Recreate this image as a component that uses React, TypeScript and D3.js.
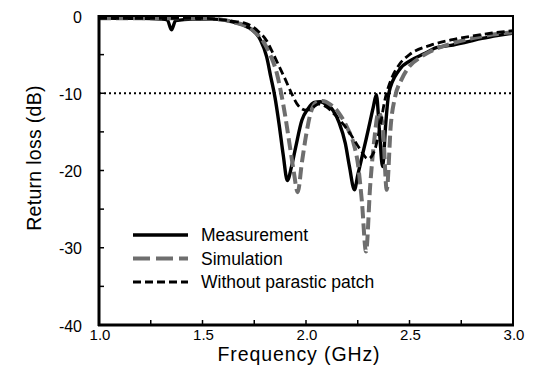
import React from "react";
import * as d3 from "d3";

const measFreq = [1.0,1.1,1.2,1.3,1.33,1.35,1.37,1.45,1.55,1.6,1.65,1.7,1.73,1.76,1.78,1.81,1.83,1.85,1.87,1.89,1.91,1.93,1.95,1.98,2.01,2.04,2.07,2.1,2.13,2.16,2.19,2.21,2.234,2.25,2.27,2.29,2.31,2.325,2.34,2.355,2.37,2.385,2.4,2.45,2.51,2.57,2.63,2.7,2.77,2.85,2.93,3.0];
const measDb = [-0.2,-0.3,-0.3,-0.4,-0.5,-1.8,-0.6,-0.4,-0.4,-0.5,-0.8,-1.2,-1.6,-2.3,-3.1,-5.3,-7.9,-10.5,-14,-18,-21.3,-19.5,-17,-13.5,-12,-11.2,-11.1,-11.5,-12.2,-13.8,-16.5,-19.5,-22.5,-20.6,-18.3,-16,-13.6,-11.8,-10.2,-15,-19.5,-14,-10,-7,-5.7,-4.9,-4.1,-3.8,-3.4,-2.9,-2.5,-2.2];

const simFreq = [1.0,1.2,1.4,1.5,1.6,1.65,1.7,1.75,1.8,1.83,1.86,1.88,1.9,1.92,1.94,1.96,1.98,2.0,2.02,2.05,2.08,2.12,2.16,2.2,2.23,2.25,2.27,2.29,2.31,2.33,2.35,2.37,2.39,2.41,2.43,2.46,2.5,2.55,2.6,2.7,2.8,2.9,3.0];
const simDb = [-0.3,-0.3,-0.3,-0.3,-0.5,-0.8,-1.2,-2.0,-3.6,-5.2,-7.5,-10,-13,-16.5,-20,-22.8,-19,-15.5,-12.8,-11.2,-11,-11.5,-12.6,-14.5,-16.5,-19,-24,-30.5,-22,-16,-12.5,-14,-22.5,-14,-10.5,-8.3,-6.5,-5.4,-4.6,-3.6,-2.9,-2.4,-2.1];

const woFreq = [1.0,1.2,1.4,1.5,1.6,1.65,1.7,1.73,1.77,1.81,1.84,1.87,1.9,1.93,1.96,2.0,2.03,2.06,2.1,2.14,2.18,2.22,2.26,2.3,2.33,2.36,2.38,2.41,2.45,2.5,2.6,2.7,2.8,2.9,3.0];
const woDb = [-0.3,-0.3,-0.3,-0.3,-0.5,-0.7,-0.9,-1.2,-2.0,-3.2,-4.8,-6.5,-8.2,-10,-11.5,-12.2,-11.9,-11.4,-11.8,-12.8,-14.0,-15.5,-17.2,-18.5,-17.5,-14,-11,-8.3,-6.3,-5,-3.8,-3.1,-2.6,-2.2,-1.9];

const xTickLabels = ["1.0", "1.5", "2.0", "2.5", "3.0"];
const yTickLabels = ["0", "-10", "-20", "-30", "-40"];
const legendLabels = ["Measurement", "Simulation", "Without parastic patch"];
const refLevel = -10;

const W = 543, H = 386;
const L = 99, R = 513, T = 16, B = 325;
const FONT = "'Liberation Sans', Arial, Helvetica, sans-serif";

export default function App() {
  const x = d3.scaleLinear().domain([1, 3]).range([L, R]);
  const y = d3.scaleLinear().domain([0, -40]).range([T, B]);
  const line = d3
    .line<[number, number]>()
    .x((d) => x(d[0]))
    .y((d) => y(d[1]))
    .curve(d3.curveMonotoneX);
  const zip = (a: number[], b: number[]) => a.map((v, i) => [v, b[i]] as [number, number]);

  const styles = [
    { stroke: "#000", width: 3.4, dash: undefined as string | undefined },
    { stroke: "#6e6e6e", width: 4, dash: "12,5" },
    { stroke: "#000", width: 2.8, dash: "8,4" },
  ];
  const series = [zip(measFreq, measDb), zip(simFreq, simDb), zip(woFreq, woDb)];

  const majorX = d3.range(1, 3.001, 0.5);
  const minorX = d3.range(1.25, 3, 0.5);
  const majorY = d3.range(0, -40.001, -10);
  const minorY = d3.range(-5, -40, -10);

  return (
    <svg width={W} height={H} style={{ position: "absolute", left: 0, top: 0, background: "#fff" }}>
      <rect x={0} y={0} width={W} height={H} fill="#fff" />
      <line x1={L} x2={R} y1={y(refLevel)} y2={y(refLevel)} stroke="#000" strokeWidth={2} strokeDasharray="2,3" />
      {series.map((s, i) => (
        <path key={i} d={line(s) || ""} fill="none" stroke={styles[i].stroke} strokeWidth={styles[i].width}
          strokeDasharray={styles[i].dash} strokeLinejoin="round" />
      ))}
      <rect x={L} y={T} width={R - L} height={B - T} fill="none" stroke="#000" strokeWidth={2} />
      <line x1={L} x2={L} y1={T - 1} y2={B + 1} stroke="#000" strokeWidth={3} />
      <line x1={L - 1} x2={R + 1} y1={B} y2={B} stroke="#000" strokeWidth={3} />
      {majorY.concat(minorY).map((v, i) => (
        <line key={"yt" + i} x1={L} x2={L + 5} y1={y(v)} y2={y(v)} stroke="#000" strokeWidth={1.5} />
      ))}
      {majorX.concat(minorX).map((v, i) => (
        <line key={"xt" + i} x1={x(v)} x2={x(v)} y1={B} y2={B - 5} stroke="#000" strokeWidth={1.5} />
      ))}
      {yTickLabels.map((t, i) => (
        <text key={"yl" + i} x={82} y={y(majorY[i]) + 1} textAnchor="end" dominantBaseline="central"
          fontFamily={FONT} fontSize={16} fill="#000">{t}</text>
      ))}
      {xTickLabels.map((t, i) => (
        <text key={"xl" + i} x={x(majorX[i]) + 1} y={340} textAnchor="middle"
          fontFamily={FONT} fontSize={15} fill="#000">{t}</text>
      ))}
      <text x={299} y={361} textAnchor="middle" fontFamily={FONT} fontSize={19.5} letterSpacing={0.9} fill="#000">
        Frequency (GHz)
      </text>
      <text transform={`translate(41,158) rotate(-90)`} textAnchor="middle" fontFamily={FONT} fontSize={19.5}
        letterSpacing={0.3} fill="#000">
        Return loss (dB)
      </text>
      {legendLabels.map((lab, i) => {
        const ly = 235 + i * 23.5;
        return (
          <g key={"lg" + i}>
            <line x1={133} x2={188} y1={ly} y2={ly} stroke={styles[i].stroke} strokeWidth={styles[i].width}
              strokeDasharray={i === 1 ? "17,6" : styles[i].dash} />
            <text x={201} y={ly + 6} fontFamily={FONT} fontSize={17.5} fill="#000">{lab}</text>
          </g>
        );
      })}
    </svg>
  );
}
